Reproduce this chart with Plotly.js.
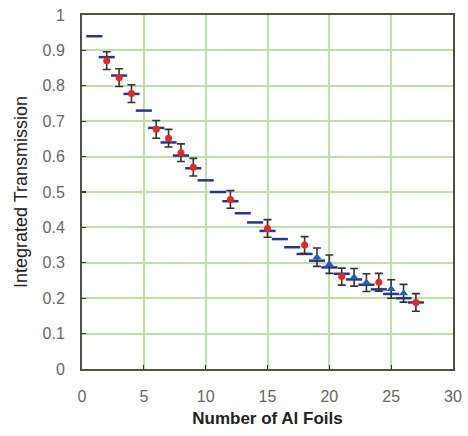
<!DOCTYPE html>
<html>
<head>
<meta charset="utf-8">
<script src="https://cdn.plot.ly/plotly-3.0.1.min.js"></script>
<style>html,body{margin:0;padding:0;background:#fff;}#chart{width:468px;height:436px;}</style>
</head>
<body>
<div id="chart"></div>
<script>
// Theory (dash markers)
const theoryFoils = [1,2,3,4,5,6,7,8,9,10,11,12,13,14,15,16,17,18,19,20,21,22,23,24,25,26,27];
const theoryTrans = [0.94,0.881,0.829,0.777,0.730,0.681,0.640,0.603,0.567,0.533,0.500,0.474,0.440,0.414,0.390,0.367,0.344,0.325,0.306,0.287,0.269,0.253,0.238,0.225,0.212,0.200,0.188];
// Measured set A (red)
const redFoils = [2,3,4,6,7,8,9,12,15,18,21,24,27];
const redTrans = [0.871,0.823,0.778,0.677,0.652,0.611,0.570,0.479,0.397,0.350,0.261,0.245,0.188];
const redErr   = [0.025,0.025,0.025,0.025,0.025,0.025,0.025,0.025,0.025,0.024,0.024,0.025,0.025];
// Measured set B (blue)
const blueFoils = [19,20,22,23,25,26];
const blueTrans = [0.316,0.296,0.259,0.244,0.226,0.214];
const blueErr   = [0.026,0.026,0.025,0.025,0.026,0.025];

const errStyle = {type:'data', visible:true, color:'#333333', thickness:1.6, width:4};

const traces = [
  {x: theoryFoils, y: theoryTrans, type:'scatter', mode:'markers', hoverinfo:'skip',
   marker:{symbol:'line-ew', size:11.5, line:{width:2.5, color:'#26358f'}}},
  {x: redFoils, y: redTrans, type:'scatter', mode:'markers',
   error_y: Object.assign({array: redErr}, errStyle),
   marker:{symbol:'circle', size:7, color:'#e8281e'}},
  {x: blueFoils, y: blueTrans, type:'scatter', mode:'markers',
   error_y: Object.assign({array: blueErr}, errStyle),
   marker:{symbol:'triangle-up', size:8, color:'#1e64b4'}}
];

const axisCommon = {
  showgrid:true, gridcolor:'#bfe0a8', gridwidth:2,
  zeroline:false, showline:true, mirror:true, linecolor:'#505045', linewidth:2,
  ticks:'inside', ticklen:4, tickcolor:'#333', tickwidth:1.2,
  tickfont:{family:'Liberation Sans, Arial, sans-serif', size:16, color:'#666666'}
};

const layout = {
  width:468, height:436,
  margin:{l:82, r:15, t:15, b:67},
  paper_bgcolor:'#ffffff', plot_bgcolor:'#ffffff',
  showlegend:false,
  xaxis: Object.assign({}, axisCommon, {
    range:[0,30], dtick:5, tick0:0, ticklabelstandoff:12,
    title:{text:'<b>Number of Al Foils</b>', standoff:8,
           font:{family:'Liberation Sans, Arial, sans-serif', size:17, color:'#222'}}
  }),
  yaxis: Object.assign({}, axisCommon, {
    range:[0,1], dtick:0.1, tick0:0, ticklabelstandoff:12,
    title:{text:'Integrated Transmission', standoff:10,
           font:{family:'Liberation Sans, Arial, sans-serif', size:18, color:'#222'}}
  })
};

Plotly.newPlot('chart', traces, layout, {displayModeBar:false, staticPlot:true});
</script>
</body>
</html>
